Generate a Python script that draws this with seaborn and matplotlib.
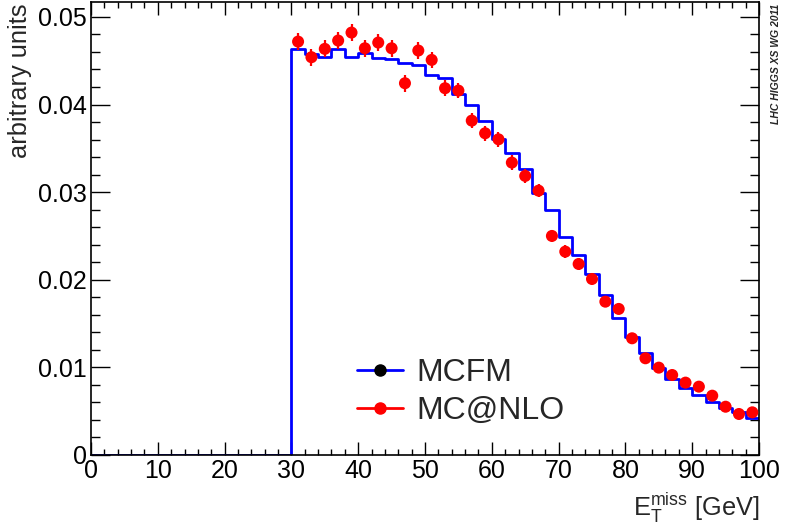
import pandas as pd
import seaborn as sns
import matplotlib.pyplot as plt
from matplotlib.lines import Line2D
from matplotlib.ticker import MultipleLocator

# MCFM histogram, 2 GeV bins from 0 to 100 (empty below 30 GeV)
bin_edges = list(range(0, 102, 2))
mcfm = [0.0] * 15 + [
    0.04631, 0.04578, 0.04547, 0.04631, 0.04547, 0.04589, 0.04532, 0.04524,
    0.04471, 0.04452, 0.04338, 0.04300, 0.04117, 0.03995, 0.03813, 0.03607,
    0.03451, 0.03265, 0.02995, 0.02800, 0.02492, 0.02283, 0.02070, 0.01822,
    0.01568, 0.01343, 0.01164, 0.00990, 0.00868, 0.00761, 0.00681, 0.00601,
    0.00540, 0.00487, 0.00426,
]

# MC@NLO points at bin centres 31..99
mcnlo_x = list(range(31, 100, 2))
mcnlo = [
    0.04718, 0.04540, 0.04635, 0.04730, 0.04821, 0.04642, 0.04707, 0.04642,
    0.04243, 0.04616, 0.04509, 0.04186, 0.04159, 0.03816, 0.03672, 0.03603,
    0.03337, 0.03185, 0.03017, 0.02500, 0.02321, 0.02180, 0.02009, 0.01750,
    0.01667, 0.01332, 0.01104, 0.00997, 0.00913, 0.00826, 0.00780, 0.00677,
    0.00551, 0.00468, 0.00487,
]
mcnlo_err = [
    0.00100, 0.00098, 0.00098, 0.00098, 0.00098, 0.00096, 0.00096, 0.00095,
    0.00095, 0.00094, 0.00093, 0.00092, 0.00090, 0.00088, 0.00086, 0.00085,
    0.00082, 0.00080, 0.00078, 0.00072, 0.00070, 0.00068, 0.00065, 0.00062,
    0.00060, 0.00055, 0.00050, 0.00048, 0.00046, 0.00044, 0.00042, 0.00040,
    0.00036, 0.00034, 0.00034,
]

sns.set_theme(style="ticks")
plt.rcParams["font.family"] = ["Liberation Sans", "DejaVu Sans"]
plt.rcParams["mathtext.fontset"] = "custom"
plt.rcParams["mathtext.rm"] = "Liberation Sans"
plt.rcParams["mathtext.it"] = "Liberation Sans"

fig = plt.figure(figsize=(7.85, 5.32), dpi=100)
ax = fig.add_axes([91 / 785, 77 / 532, 668 / 785, 453 / 532])

hist_df = pd.DataFrame({
    "et": [(lo + hi) / 2 for lo, hi in zip(bin_edges[:-1], bin_edges[1:])],
    "w": mcfm,
})
sns.histplot(data=hist_df, x="et", weights="w", bins=bin_edges, element="step",
             fill=False, color="#0000ff", linewidth=2.0, ax=ax)

ax.errorbar(mcnlo_x, mcnlo, yerr=mcnlo_err, fmt="none", ecolor="#ff0000",
            elinewidth=1.6, capsize=0, zorder=3)
sns.scatterplot(x=mcnlo_x, y=mcnlo, color="#ff0000", s=75, edgecolor="none",
                zorder=4, ax=ax)

ax.set_xlim(0, 100)
ax.set_ylim(0, 0.0517)
ax.set_xlabel("")
ax.set_ylabel("")
ax.xaxis.set_major_locator(MultipleLocator(10))
ax.xaxis.set_minor_locator(MultipleLocator(2))
ax.yaxis.set_major_locator(MultipleLocator(0.01))
ax.yaxis.set_minor_locator(MultipleLocator(0.002))
ax.yaxis.set_major_formatter(plt.FuncFormatter(lambda v, p: "0" if v == 0 else f"{v:.2f}"))

ax.tick_params(which="both", direction="in", top=True, right=True,
               colors="black", width=1.0, labelsize=18)
ax.tick_params(axis="x", which="major", length=9.4, pad=3)
ax.tick_params(axis="x", which="minor", length=4.3)
ax.tick_params(axis="y", which="major", length=13.7, pad=3)
ax.tick_params(axis="y", which="minor", length=6.5)
for sp in ax.spines.values():
    sp.set_color("black")
    sp.set_linewidth(1.2)

fig.text(20 / 785, 1 - 3 / 532, "arbitrary units", rotation=90,
         ha="center", va="top", fontsize=18.3)
fig.text(759 / 785, 7 / 532, r"$\mathrm{E}_{\mathrm{T}}^{\mathrm{miss}}$ [GeV]",
         ha="right", va="bottom", fontsize=18.3)
fig.text(776 / 785, 1 - 4 / 532, "LHC HIGGS XS WG 2011", rotation=90,
         ha="center", va="top", fontsize=7.5, fontweight="bold", style="italic")

handles = [
    Line2D([], [], color="#0000ff", lw=2, marker="o", markersize=8,
           markerfacecolor="black", markeredgecolor="black"),
    Line2D([], [], color="#ff0000", lw=2, marker="o", markersize=8,
           markerfacecolor="#ff0000", markeredgecolor="#ff0000"),
]
fig.legend(handles, ["MCFM", "MC@NLO"], loc="center left",
           bbox_to_anchor=(357 / 785, 1 - 392 / 532), frameon=False,
           fontsize=23, handlelength=1.45, handletextpad=0.4,
           labelspacing=0.25, borderpad=0, borderaxespad=0)

fig.savefig("out.png", dpi=100)
